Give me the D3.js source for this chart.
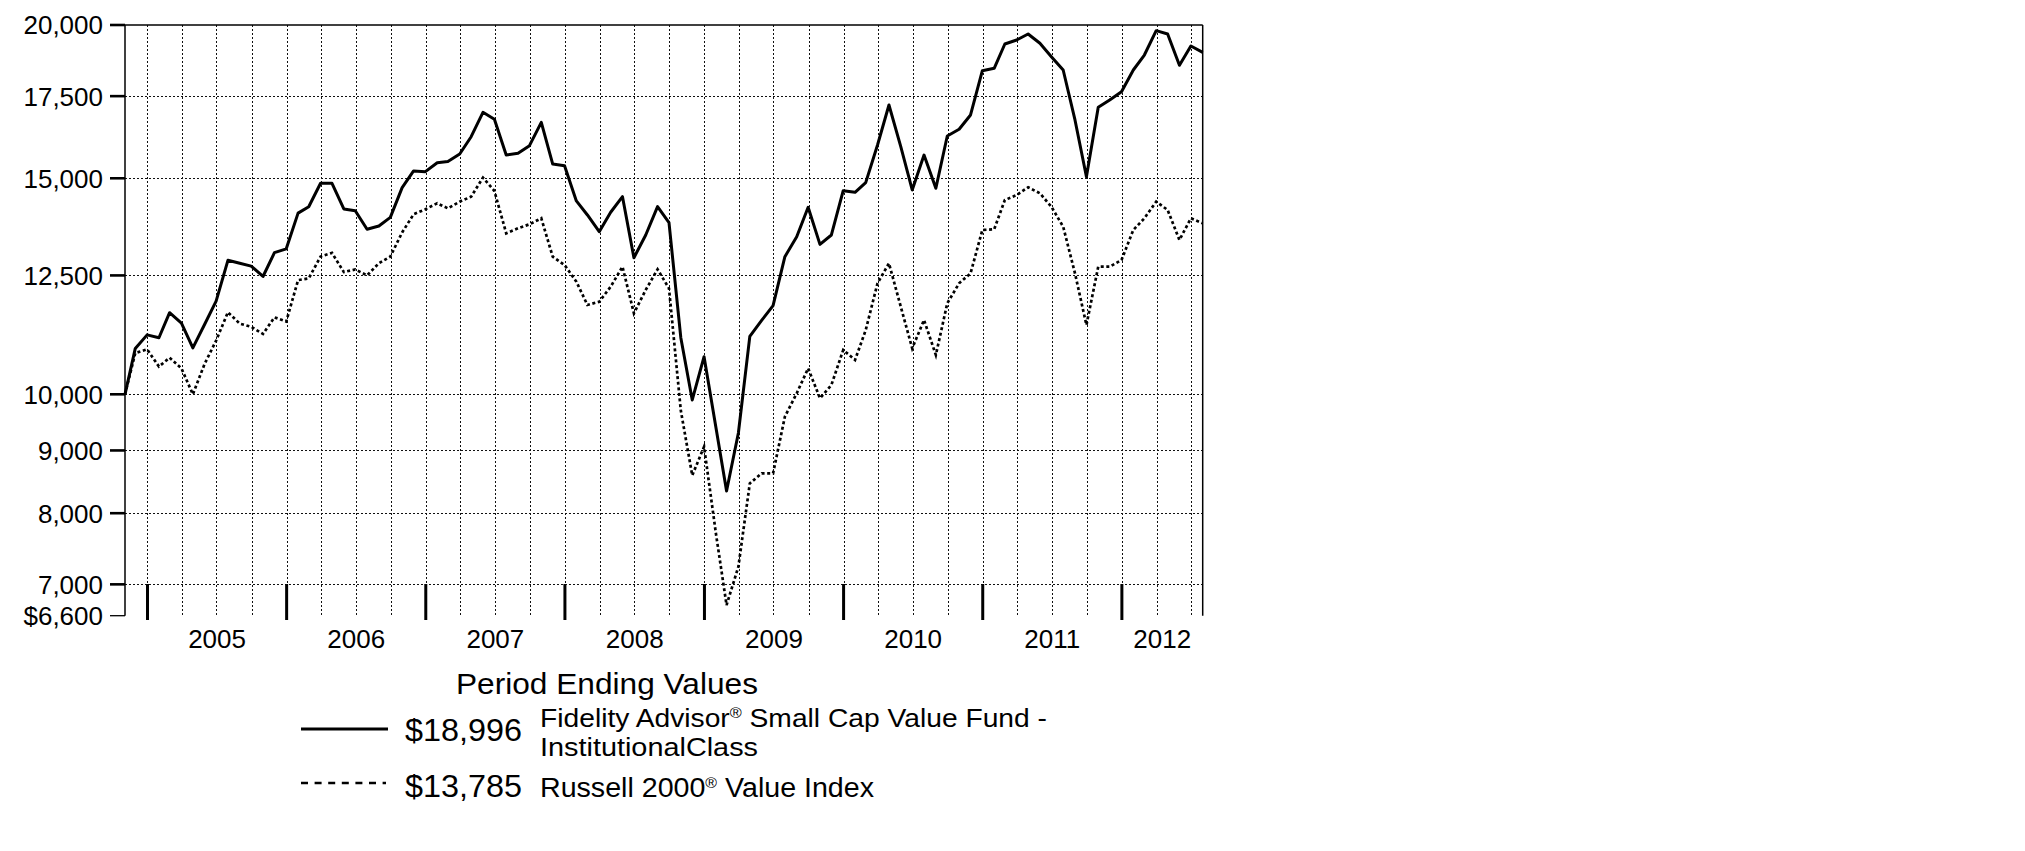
<!DOCTYPE html>
<html><head><meta charset="utf-8">
<script src="https://cdn.jsdelivr.net/npm/d3@7"></script>
<style>
html,body{margin:0;padding:0;background:#fff;}
svg{display:block;font-family:"Liberation Sans",Arial,Helvetica,sans-serif;}
</style></head><body>
<svg id="chart" width="2025" height="851"></svg>
<script>
// ---- data ----
const inceptionDate = "2004-11-03";
const fundLabel = "Fidelity Advisor";
const fundLabelRest = " Small Cap Value Fund -";
const fundLabelLine2 = "InstitutionalClass";
const indexLabel = "Russell 2000";
const indexLabelRest = " Value Index";
const fundEndLabel = "$18,996";
const indexEndLabel = "$13,785";
const legendTitle = "Period Ending Values";

// month-end values (first entry = inception), Nov 2004 .. Jul 2012
const fundValues = [
  10000, 10900, 11180,
  11120, 11655, 11430, 10910, 11405, 11910, 12860, 12790, 12720, 12475, 13045, 13140,
  14050, 14220, 14860, 14860, 14160, 14115, 13630, 13716, 13940, 14740, 15208, 15188,
  15445, 15480, 15700, 16217, 16977, 16755, 15668, 15720, 15947, 16661, 15406, 15359,
  14376, 14002, 13568, 14073, 14490, 12922, 13486, 14222, 13800, 11122, 9895, 10732,
  9400, 8340, 9300, 11150, 11488, 11810, 12948, 13442, 14205, 13250, 13486, 14654,
  14609, 14877, 15966, 17211, 15917, 14674, 15668, 14721, 16239, 16444, 16892, 18356,
  18439, 19299, 19444, 19666, 19325, 18846, 18380, 16735, 15045, 17138, 17374, 17647,
  18380, 18904, 19788, 19666, 18544, 19227, 18996
];
const indexValues = [
  10000, 10805, 10880,
  10535, 10710, 10500, 10000, 10590, 11060, 11665, 11420, 11350, 11200, 11555, 11465,
  12390, 12430, 12950, 13040, 12580, 12640, 12500, 12790, 12950, 13550, 14020, 14152,
  14312, 14177, 14356, 14490, 15017, 14646, 13528, 13656, 13759, 13915, 12948, 12747,
  12354, 11825, 11898, 12238, 12706, 11642, 12164, 12644, 12200, 9700, 8588, 9064,
  7704, 6733, 7236, 8461, 8622, 8622, 9589, 10019, 10500, 9926, 10177, 10868,
  10666, 11280, 12317, 12788, 11787, 10901, 11497, 10765, 11863, 12317, 12548, 13613,
  13630, 14400, 14537, 14748, 14584, 14222, 13697, 12548, 11389, 12706, 12706, 12867,
  13613, 13915, 14356, 14134, 13360, 13915, 13785
];
const yTickValues = [6600, 7000, 8000, 9000, 10000, 12500, 15000, 17500, 20000];
const yTickLabels = ["$6,600", "7,000", "8,000", "9,000", "10,000", "12,500", "15,000", "17,500", "20,000"];
const yearLabels = ["2005", "2006", "2007", "2008", "2009", "2010", "2011", "2012"];

// ---- dates ----
const parse = d3.timeParse("%Y-%m-%d");
const dates = fundValues.map((v, i) => i === 0 ? parse(inceptionDate) : new Date(2004, 10 + i, 0));

// ---- layout ----
const L = 125, R = 1202.7, T = 25, B = 615.7;
const svg = d3.select("#chart");
const x = d3.scaleTime().domain([dates[0], dates[dates.length - 1]]).range([L, R]);
const y = d3.scaleLog().domain([6600, 20000]).range([B, T]);

// grid
const quarters = d3.timeMonth.every(3).range(new Date(2005, 0, 1), dates[dates.length - 1]);
svg.append("g").selectAll("line").data(quarters).join("line")
  .attr("x1", d => Math.round(x(d)) + 0.5).attr("x2", d => Math.round(x(d)) + 0.5)
  .attr("y1", T).attr("y2", B)
  .attr("stroke", "#111").attr("stroke-width", 1).attr("stroke-dasharray", "2,2");
svg.append("g").selectAll("line").data(yTickValues.filter(v => v > 6600 && v < 20000)).join("line")
  .attr("x1", L).attr("x2", R)
  .attr("y1", d => Math.round(y(d)) + 0.5).attr("y2", d => Math.round(y(d)) + 0.5)
  .attr("stroke", "#111").attr("stroke-width", 1).attr("stroke-dasharray", "2,2");

// frame: top, left, right
svg.append("line").attr("x1", L).attr("x2", R).attr("y1", T).attr("y2", T).attr("stroke", "#000").attr("stroke-width", 1.5);
svg.append("line").attr("x1", L).attr("x2", L).attr("y1", T).attr("y2", B).attr("stroke", "#000").attr("stroke-width", 1.5);
svg.append("line").attr("x1", R).attr("x2", R).attr("y1", T).attr("y2", B).attr("stroke", "#000").attr("stroke-width", 1.5);

// y axis ticks + labels
const yAxis = svg.append("g");
yAxis.selectAll("line").data(yTickValues).join("line")
  .attr("x1", 110).attr("x2", L).attr("y1", d => y(d)).attr("y2", d => y(d))
  .attr("stroke", "#000").attr("stroke-width", d => d === 6600 ? 1.3 : 2.6);
yAxis.selectAll("text").data(yTickValues).join("text")
  .attr("x", 103).attr("y", d => y(d)).attr("dy", "0.36em")
  .attr("text-anchor", "end").attr("font-size", 26).attr("fill", "#000")
  .text((d, i) => yTickLabels[i]);

// year ticks + labels
const yearStarts = yearLabels.map(s => new Date(+s, 0, 1));
svg.append("g").selectAll("line").data(yearStarts).join("line")
  .attr("x1", d => x(d)).attr("x2", d => x(d)).attr("y1", 584).attr("y2", 620)
  .attr("stroke", "#000").attr("stroke-width", 3);
svg.append("g").selectAll("text").data(yearLabels).join("text")
  .attr("x", s => {
    const a = Math.max(x(new Date(+s, 0, 1)), L), b = Math.min(x(new Date(+s + 1, 0, 1)), R);
    return (a + b) / 2;
  })
  .attr("y", 648).attr("text-anchor", "middle").attr("font-size", 26).attr("fill", "#000")
  .text(s => s);

// series
const line = d3.line().x((d, i) => x(dates[i])).y(d => y(d));
svg.append("path").datum(indexValues).attr("d", line)
  .attr("fill", "none").attr("stroke", "#000").attr("stroke-width", 2.7)
  .attr("stroke-dasharray", "3,2.6");
svg.append("path").datum(fundValues).attr("d", line)
  .attr("fill", "none").attr("stroke", "#000").attr("stroke-width", 3)
  .attr("stroke-linejoin", "round");

// legend
const lg = svg.append("g").attr("fill", "#000");
lg.append("text").attr("x", 456).attr("y", 694).attr("font-size", 30)
  .attr("textLength", 302).attr("lengthAdjust", "spacingAndGlyphs").text(legendTitle);
lg.append("line").attr("x1", 301).attr("x2", 388).attr("y1", 729).attr("y2", 729)
  .attr("stroke", "#000").attr("stroke-width", 3.2);
lg.append("text").attr("x", 405).attr("y", 741).attr("font-size", 31)
  .attr("textLength", 117).attr("lengthAdjust", "spacingAndGlyphs").text(fundEndLabel);
const t1 = lg.append("text").attr("x", 540).attr("y", 727).attr("font-size", 26)
  .attr("textLength", 507).attr("lengthAdjust", "spacingAndGlyphs");
t1.append("tspan").text(fundLabel);
t1.append("tspan").attr("font-size", 15).attr("dy", -9).text("®");
t1.append("tspan").attr("dy", 9).text(fundLabelRest);
lg.append("text").attr("x", 540).attr("y", 756).attr("font-size", 26)
  .attr("textLength", 218).attr("lengthAdjust", "spacingAndGlyphs").text(fundLabelLine2);
lg.append("line").attr("x1", 301).attr("x2", 386).attr("y1", 783).attr("y2", 783)
  .attr("stroke", "#000").attr("stroke-width", 2.4).attr("stroke-dasharray", "7,6.6");
lg.append("text").attr("x", 405).attr("y", 797).attr("font-size", 31)
  .attr("textLength", 117).attr("lengthAdjust", "spacingAndGlyphs").text(indexEndLabel);
const t2 = lg.append("text").attr("x", 540).attr("y", 797).attr("font-size", 27)
  .attr("textLength", 334).attr("lengthAdjust", "spacingAndGlyphs");
t2.append("tspan").text(indexLabel);
t2.append("tspan").attr("font-size", 15).attr("dy", -9).text("®");
t2.append("tspan").attr("dy", 9).text(indexLabelRest);
</script>
</body></html>
